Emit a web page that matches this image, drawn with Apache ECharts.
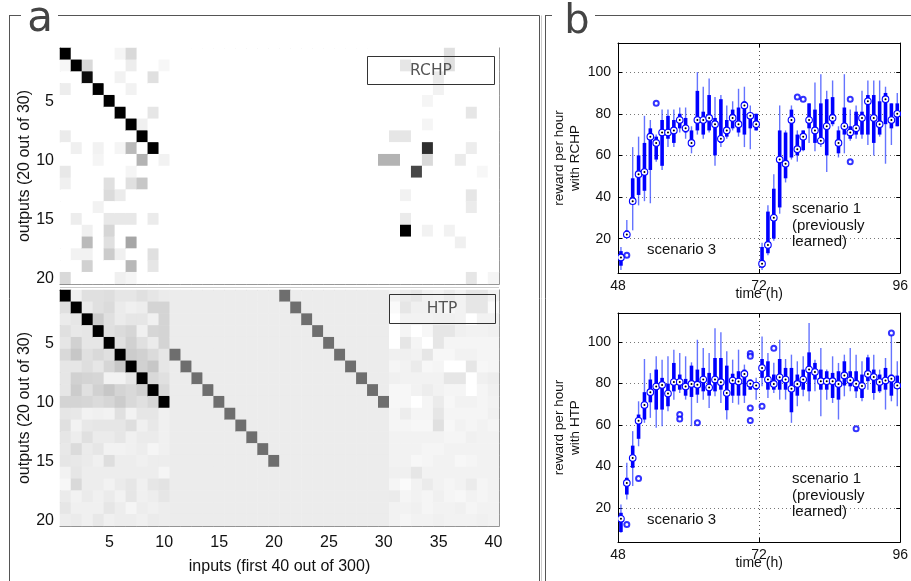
<!DOCTYPE html>
<html><head><meta charset="utf-8">
<script src="https://cdn.jsdelivr.net/npm/echarts@6/dist/echarts.min.js"></script>
<style>html,body{margin:0;padding:0;background:#fff}#c{width:911px;height:581px}</style>
</head><body><div id="c"></div>
<script>
// ---------- heatmap categories ----------
const inputs = ['1','2','3','4','5','6','7','8','9','10','11','12','13','14','15','16','17','18','19','20',
  '21','22','23','24','25','26','27','28','29','30','31','32','33','34','35','36','37','38','39','40'];
const outputs = ['1','2','3','4','5','6','7','8','9','10','11','12','13','14','15','16','17','18','19','20'];

// RCHP weights: [input, output, darkness 0..1] (all other cells are 0 = white)
const rchpCells = [
  [1,1,1],[2,2,1],[3,3,0.95],[4,4,1],[5,5,1],[6,6,1],[7,7,1],[8,8,1],[9,9,1],
  [6,1,0.04],[7,1,0.15],
  [1,2,0.03],[3,2,0.15],[7,2,0.07],[10,2,0.03],
  [6,3,0.05],[9,3,0.12],
  [1,4,0.07],[7,4,0.05],
  [9,6,0.1],[8,7,0.06],[1,8,0.08],
  [2,9,0.06],[4,9,0.05],[6,9,0.04],[7,9,0.27],
  [4,10,0.04],[8,10,0.3],[10,10,0.05],
  [1,11,0.09],[7,11,0.04],
  [1,12,0.06],[5,12,0.12],[7,12,0.12],[8,12,0.22],
  [5,13,0.14],[6,13,0.08],
  [4,14,0.05],
  [2,15,0.07],[5,15,0.09],[6,15,0.09],[7,15,0.09],[9,15,0.08],
  [3,16,0.06],[5,16,0.16],
  [3,17,0.27],[5,17,0.12],[7,17,0.35],
  [2,18,0.05],[3,18,0.05],[5,18,0.2],[6,18,0.06],[9,18,0.12],
  [3,19,0.18],[7,19,0.28],[9,19,0.1],
  [1,20,0.15],[6,20,0.06],[7,20,0.04],
  [36,1,0.12],[36,2,0.12],[32,2,0.1],[35,3,0.08],[35,4,0.05],
  [34,5,0.04],[38,6,0.1],[34,7,0.04],[31,8,0.1],[32,8,0.1],
  [34,9,0.82],[38,9,0.07],
  [30,10,0.3],[31,10,0.3],[34,10,0.15],[37,10,0.08],
  [33,11,0.72],[39,11,0.03],
  [32,13,0.05],[38,13,0.1],[38,14,0.08],
  [32,15,0.08],[32,16,1],[34,16,0.05],[36,16,0.05],[37,17,0.06],
  [38,20,0.1],[40,20,0.04]
];

// HTP weights: darkness in percent. Inputs 1-10 (left block), 31-40 (right block)
const htpLeft = [
  [100,6,12,12,13,10,10,12,10,8],
  [12,100,8,12,14,8,6,7,17,17],
  [8,10,100,20,12,8,10,10,6,17],
  [12,9,10,100,12,14,16,6,16,17],
  [10,18,10,10,100,12,18,12,8,17],
  [15,22,12,15,12,100,20,18,14,10],
  [10,10,13,10,16,22,100,18,22,10],
  [10,18,17,16,5,5,10,100,15,12],
  [10,20,12,18,22,17,15,18,100,15],
  [17,17,16,14,16,20,15,12,16,100],
  [10,9,5,6,5,12,5,10,10,6],
  [12,5,9,10,10,10,13,6,9,6],
  [10,7,12,8,8,10,6,8,8,6],
  [9,14,8,10,5,5,6,7,4,6],
  [10,9,8,6,13,7,7,6,7,7],
  [5,10,7,7,7,7,7,7,7,4],
  [3,15,7,7,5,8,10,6,10,11],
  [8,5,8,6,8,5,10,6,7,10],
  [10,6,6,6,10,7,4,7,6,7],
  [7,8,6,9,6,7,7,6,8,7]
];
const htpRight = [
  [5,8,10,6,5,8,5,10,10,5],
  [2,10,6,6,5,3,5,10,10,2],
  [0,5,5,5,6,6,5,0,5,5],
  [0,4,0,3,10,10,6,5,5,6],
  [0,10,4,0,10,4,4,4,4,4],
  [6,6,5,10,3,3,5,5,4,4],
  [4,5,8,3,4,0,0,10,3,4],
  [6,5,5,5,5,10,10,0,6,7],
  [3,3,5,7,5,4,4,0,4,6],
  [3,3,0,4,8,3,5,5,4,5],
  [4,7,4,4,10,4,4,4,4,6],
  [4,4,3,3,12,3,5,4,5,4],
  [5,5,5,5,5,4,4,6,5,5],
  [5,5,5,4,4,5,5,5,5,5],
  [5,5,3,4,5,5,3,4,5,5],
  [6,6,10,5,5,5,5,5,5,5],
  [4,2,5,8,5,4,5,8,4,5],
  [8,4,5,4,6,4,3,5,4,5],
  [5,5,6,4,5,5,6,4,5,5],
  [5,4,5,5,6,5,5,5,6,5]
];
const htpMiddle = 7.5;   // inputs 11-30
const htpGrayLevel = 57;
const htpGrayCells = [
  [11,6],[12,7],[13,8],[14,9],[15,10],[16,11],[17,12],[18,13],[19,14],[20,15],
  [21,1],[22,2],[23,3],[24,4],[25,5],[26,6],[27,7],[28,8],[29,9],[30,10]
];

// ---------- box plots (panel b) ----------
const hours = [48.5,49.5,50.5,51.5,52.5,53.5,54.5,55.5,56.5,57.5,58.5,59.5,60.5,61.5,62.5,63.5,64.5,65.5,66.5,67.5,68.5,69.5,70.5,71.5,
  72.5,73.5,74.5,75.5,76.5,77.5,78.5,79.5,80.5,81.5,82.5,83.5,84.5,85.5,86.5,87.5,88.5,89.5,90.5,91.5,92.5,93.5,94.5,95.5];

const rchpMin = [5,20,24,36,38,37,57,53,64,64,71,68,61,70,68,71,55,64,68,72,69,64,63,72, 5,12,19,32,47,58,57,62,66,62,64,52,74,59,61,67,68,68,65,60,69,56,65,74];
const rchpQ1  = [7,21,37,41,43,53,58,55,68,66,73,71,64,72,70,72,60,66,69,73,71,70,73,72, 6,13,20,35,49,59,60,62.5,73,66,66,60,75,61,70,68,70,70,70,66,70,75,73,74];
const rchpMed = [11,22,38,51,52,69,66,71,71,72,77,73,66,77,77,78,75,68,72,78,75,84,79,75, 8,17,30,58,56,77,63,69,77,72,67,74,78,66,74,71,73,78,86,78,75,87,77,80];
const rchpQ3  = [14,24,49,60,66,73,69,77,79,77,80,78,72,91,81,89,78,87,77,82,83,86,80,80, 16,33,44,72,71,82,70,72,85,82,85,87,88,72,83,74,81,81,89,89,86,90,85,85];
const rchpMax = [16,29,64,69,79,77,70,82,82,82,83,83,74,100,93,97,88,89,84,86,92,93,84,80, 18,36,51,84,72,84,72,72,85,95,99,91,96,74,99,82,84,91,96,96,96,93,85,90];
const rchpOutliers = [[49.5,12],[54.5,85],[78.5,88],[79.5,87],[87.5,87],[87.5,57]];

const htpMin = [8,24,30.5,49.7,61,63.4,58.6,59.4,66.6,72.2,75.4,72.2,59.4,70.6,72.2,68.2,73.8,70.6,62.6,70.6,69.8,70.6,77,72.2, 78.6,73,75.4,72.2,72.2,61,69,73.8,71.4,76.2,64.2,72.2,70.6,62.6,73.8,76.2,73,71.4,77,72.2,75.4,67.4,71.4,69];
const htpQ1  = [8.3,26.4,39.3,53.3,62.6,70.9,67.4,67.4,69,76.2,77,74.1,73.5,74.6,76.2,74.1,76.2,77,67.1,74.1,74.1,74.1,77,77, 82.7,77,77,77,77,66.1,74.1,77,76.2,81.9,77,77,73,72.2,79,78.6,76.2,73,81.1,75.4,76.2,77,74.1,77.8];
const htpMed = [14.7,32,44,62,69.6,75.8,78.5,79.3,75.1,80.7,80.7,78.5,79.8,79.4,81.9,78,81.9,80.6,75.4,81.4,80.9,84.6,79.9,79, 87.5,81.9,79.8,83,81.9,77.4,79.8,81.9,86.7,85.5,81.1,81.1,81.1,79.8,83.9,81.5,79.9,78.8,84.6,83.1,80.7,81.4,82.3,79];
const htpQ3  = [17.6,34.5,50,65,75.8,81.9,86.7,82.7,79.9,89.9,84.3,82.2,88.6,86.7,87.5,85.1,92.3,92.3,88.6,84.7,85.9,86.7,81.9,80.2, 91.8,90.7,84.3,91.8,87.5,87.5,84.3,86.7,95,89.9,86.7,85.9,85.1,85.9,90.7,85.9,85.9,84.3,92.6,86.7,84.3,87.5,84.3,83.8];
const htpMax = [21.6,41.7,57,71.4,91.8,85,93.1,91.5,93.1,96.3,94.7,93.1,90.2,101.1,97.1,94.7,106.7,104.7,95.5,91.5,96.3,89.1,81.9,82.7, 102.7,94.7,90,101.1,91.8,93.9,90.7,93.1,109.2,91.5,97.1,86.7,93.1,89.9,93.9,97.1,93.9,90.7,93.9,93.9,86.7,92.3,103.5,90.7];
const htpOutliers = [[49.5,12],[51.5,34.2],[58.5,65],[58.5,62.9],[61.5,61],[70.5,94.4],[70.5,93.1],[70.5,68.2],[70.5,62.1],[72.5,69],[74.5,97],[88.5,58.1],[94.5,104.3]];

// ---------- build series data ----------
const rchpData = [];
const rchpMap = {};
rchpCells.forEach(c => { rchpMap[c[0] + '_' + c[1]] = c[2]; });
for (let x = 1; x <= 40; x++) for (let y = 1; y <= 20; y++) {
  rchpData.push([x - 1, y - 1, rchpMap[x + '_' + y] || 0]);
}
const grayMap = {};
htpGrayCells.forEach(c => { grayMap[c[0] + '_' + c[1]] = true; });
const htpData = [];
for (let x = 1; x <= 40; x++) for (let y = 1; y <= 20; y++) {
  let v;
  if (grayMap[x + '_' + y]) v = htpGrayLevel;
  else if (x <= 10) v = htpLeft[y - 1][x - 1];
  else if (x >= 31) v = htpRight[y - 1][x - 31];
  else v = htpMiddle;
  htpData.push([x - 1, y - 1, v / 100]);
}
function boxData(mn, q1, md, q3, mx) {
  return hours.map((h, i) => [h, mn[i], q1[i], md[i], q3[i], mx[i]]);
}

// ---------- axes helpers ----------
const FONT = 'Liberation Sans';
const every5 = (i) => (i + 1) % 5 === 0;
function heatX(grid, pos, labels) {
  return {
    type: 'category', gridIndex: grid, position: pos, data: inputs,
    axisLine: { lineStyle: { color: '#777' } },
    axisTick: { inside: true, length: 4, alignWithLabel: true, interval: every5, lineStyle: { color: '#777' } },
    axisLabel: { show: labels, interval: every5, fontFamily: FONT, fontSize: 16, color: '#111', margin: 9 },
    splitLine: { show: false },
    name: labels ? 'inputs (first 40 out of 300)' : '', nameLocation: 'middle', nameGap: 33,
    nameTextStyle: { fontFamily: FONT, fontSize: 16, color: '#111' }
  };
}
function heatY(grid, pos, labels) {
  return {
    type: 'category', gridIndex: grid, position: pos, data: outputs, inverse: true,
    axisLine: { lineStyle: { color: '#777' } },
    axisTick: { inside: true, length: 4, alignWithLabel: true, interval: every5, lineStyle: { color: '#777' } },
    axisLabel: { show: labels, interval: every5, fontFamily: FONT, fontSize: 16, color: '#111', margin: 6 },
    splitLine: { show: false },
    name: labels ? 'outputs (20 out of 30)' : '', nameLocation: 'middle', nameGap: 26, nameRotate: 90,
    nameTextStyle: { fontFamily: FONT, fontSize: 16, color: '#111' }
  };
}
function boxX(grid, pos, labels) {
  return {
    type: 'value', gridIndex: grid, position: pos, min: 48, max: 96, interval: 24,
    axisLine: { lineStyle: { color: '#000' } },
    axisTick: { inside: true, length: 4, lineStyle: { color: '#000' } },
    axisLabel: { show: labels, fontFamily: FONT, fontSize: 14, color: '#111', margin: 6 },
    splitLine: { show: labels, lineStyle: { type: [1, 3], color: '#555' } },
    name: labels ? 'time (h)' : '', nameLocation: 'middle', nameGap: 14, nameMoveOverlap: false,
    nameTextStyle: { fontFamily: FONT, fontSize: 14, color: '#111' }
  };
}
function boxY(grid, pos, labels, name) {
  return {
    type: 'value', gridIndex: grid, position: pos, min: 3.5, max: 114, splitNumber: 5,
    axisLine: { lineStyle: { color: '#000' } },
    axisTick: { inside: true, length: 4, lineStyle: { color: '#000' } },
    axisLabel: { show: labels, showMinLabel: false, showMaxLabel: false, fontFamily: FONT, fontSize: 14, color: '#111', margin: 7 },
    splitLine: { show: labels, lineStyle: { type: [1, 3], color: '#777' } },
    name: labels ? name : '', nameLocation: 'middle', nameGap: 34, nameRotate: 90,
    nameTextStyle: { fontFamily: FONT, fontSize: 13.5, color: '#111', lineHeight: 16.5, align: 'center' }
  };
}

function renderBox(params, api) {
  const x = api.value(0);
  const lo = api.coord([x, api.value(1)]);
  const q1 = api.coord([x, api.value(2)]);
  const md = api.coord([x, api.value(3)]);
  const q3 = api.coord([x, api.value(4)]);
  const hi = api.coord([x, api.value(5)]);
  const bw = 3.6;
  return { type: 'group', children: [
    { type: 'line', shape: { x1: lo[0], y1: lo[1], x2: hi[0], y2: hi[1] }, style: { stroke: 'rgba(50,70,255,0.75)', lineWidth: 1.4 } },
    { type: 'rect', shape: { x: q3[0] - bw / 2, y: q3[1], width: bw, height: Math.max(q1[1] - q3[1], 0.5) }, style: { fill: '#0000ff' } },
    { type: 'circle', shape: { cx: md[0], cy: md[1], r: 3.3 }, style: { fill: '#ffffff', stroke: '#0000ff', lineWidth: 1.1 } },
    { type: 'circle', shape: { cx: md[0], cy: md[1], r: 1 }, style: { fill: '#000000' } }
  ] };
}

const grids = [
  { left: 60, top: 48, width: 439, height: 236 },
  { left: 60, top: 290, width: 439, height: 236 },
  { left: 618, top: 43, width: 285, height: 230 },
  { left: 618, top: 313, width: 285, height: 229 }
];

const gtext = (x, y, text, size, extra) => ({
  type: 'text', x: x, y: y, z: 100, silent: true,
  style: Object.assign({ text: text, fontFamily: FONT, fontSize: size, fill: '#111' }, extra || {})
});
const gline = (x1, y1, x2, y2, color) => ({ type: 'line', z: 100, silent: true,
  shape: { x1: x1, y1: y1, x2: x2, y2: y2 }, style: { stroke: color || '#555', lineWidth: 1 } });

const option = {
  animation: false,
  backgroundColor: '#ffffff',
  grid: grids,
  xAxis: [heatX(0, 'bottom', false), heatX(0, 'top', false), heatX(1, 'bottom', true), heatX(1, 'top', false),
          boxX(2, 'bottom', true), boxX(2, 'top', false), boxX(3, 'bottom', true), boxX(3, 'top', false)],
  yAxis: [heatY(0, 'left', true), heatY(0, 'right', false), heatY(1, 'left', true), heatY(1, 'right', false),
          boxY(2, 'left', true, 'reward per hour\nwith RCHP'), boxY(2, 'right', false), boxY(3, 'left', true, 'reward per hour\nwith HTP'), boxY(3, 'right', false)],
  visualMap: [{ type: 'continuous', show: false, min: 0, max: 1, dimension: 2, seriesIndex: [0, 1],
    inRange: { color: ['#ffffff', '#000000'] } }],
  series: [
    { type: 'heatmap', xAxisIndex: 0, yAxisIndex: 0, data: rchpData, emphasis: { disabled: true }, progressive: 0 },
    { type: 'heatmap', xAxisIndex: 2, yAxisIndex: 2, data: htpData, emphasis: { disabled: true }, progressive: 0 },
    { type: 'custom', xAxisIndex: 4, yAxisIndex: 4, data: boxData(rchpMin, rchpQ1, rchpMed, rchpQ3, rchpMax), renderItem: renderBox, clip: true, z: 5 },
    { type: 'scatter', xAxisIndex: 4, yAxisIndex: 4, data: rchpOutliers, symbol: 'emptyCircle', symbolSize: 5,
      itemStyle: { color: '#0000ff', borderWidth: 1 }, z: 6 },
    { type: 'custom', xAxisIndex: 6, yAxisIndex: 6, data: boxData(htpMin, htpQ1, htpMed, htpQ3, htpMax), renderItem: renderBox, clip: true, z: 5 },
    { type: 'scatter', xAxisIndex: 6, yAxisIndex: 6, data: htpOutliers, symbol: 'emptyCircle', symbolSize: 5,
      itemStyle: { color: '#0000ff', borderWidth: 1 }, z: 6 }
  ],
  graphic: [
    // panel a frame
    gline(9.5, 15.5, 9.5, 581, '#555'), gline(9, 15.5, 21, 15.5, '#555'), gline(58, 15.5, 539.5, 15.5, '#555'),
    gline(539.5, 15.5, 539.5, 581, '#555'), gline(541.5, 15.5, 541.5, 581, '#ccc'),
    gline(60, 287.5, 499, 287.5, '#ccc'),
    // panel b frame
    gline(545.5, 15.5, 545.5, 581, '#555'), gline(545, 15.5, 552, 15.5, '#555'), gline(595, 15.5, 911, 15.5, '#555'),
    gtext(40, 20, 'a', 42, { fill: '#444', align: 'center', verticalAlign: 'middle', fontFamily: 'DejaVu Sans' }),
    gtext(577, 23, 'b', 40, { fill: '#444', align: 'center', verticalAlign: 'middle', fontFamily: 'DejaVu Sans' }),
    // legends
    { type: 'rect', z: 100, silent: true, shape: { x: 367.5, y: 56.5, width: 127, height: 28 }, style: { fill: 'none', stroke: '#333', lineWidth: 1 } },
    gtext(431, 71, 'RCHP', 15.5, { fill: '#555', align: 'center', verticalAlign: 'middle', fontFamily: 'DejaVu Sans' }),
    { type: 'rect', z: 100, silent: true, shape: { x: 389.5, y: 294.5, width: 106, height: 29 }, style: { fill: 'none', stroke: '#333', lineWidth: 1 } },
    gtext(442, 309, 'HTP', 15.5, { fill: '#555', align: 'center', verticalAlign: 'middle', fontFamily: 'DejaVu Sans' }),
    // annotations
    gtext(647, 250, 'scenario 3', 15, { verticalAlign: 'middle' }),
    gtext(792, 201, 'scenario 1\n(previously\nlearned)', 15, { verticalAlign: 'top', lineHeight: 16.5 }),
    gtext(647, 520, 'scenario 3', 15, { verticalAlign: 'middle' }),
    gtext(792, 471, 'scenario 1\n(previously\nlearned)', 15, { verticalAlign: 'top', lineHeight: 16.5 })
  ]
};

const chart = echarts.init(document.getElementById('c'), null, { renderer: 'canvas', width: 911, height: 581 });
chart.setOption(option);
</script>
</body></html>
